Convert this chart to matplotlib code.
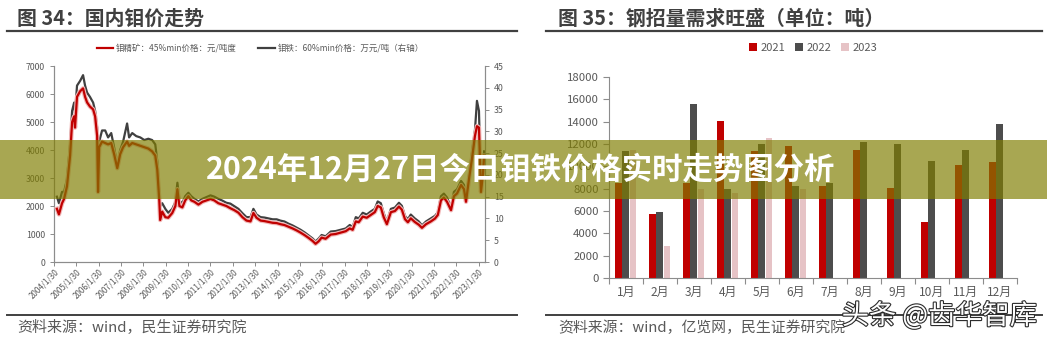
import matplotlib
matplotlib.use("Agg")
import matplotlib.pyplot as plt
import matplotlib.patheffects as pe
from matplotlib.patches import Rectangle
from matplotlib.lines import Line2D

plt.rcParams['font.family'] = ['Noto Sans CJK SC', 'DejaVu Sans']

# ---- left chart: domestic molybdenum prices ----
# decimal years
years = [2004.21, 2004.30, 2004.44, 2004.53, 2004.66, 2004.80, 2004.89, 2004.98, 2005.02, 2005.11,
         2005.25, 2005.38, 2005.47, 2005.56, 2005.69, 2005.83, 2005.92, 2006.01, 2006.05, 2006.10,
         2006.23, 2006.37, 2006.50, 2006.64, 2006.77, 2006.91, 2007.04, 2007.17, 2007.35, 2007.44,
         2007.58, 2007.76, 2007.94, 2008.12, 2008.30, 2008.47, 2008.61, 2008.70, 2008.79, 2008.83,
         2008.92, 2009.06, 2009.19, 2009.37, 2009.51, 2009.60, 2009.69, 2009.82, 2009.95, 2010.09,
         2010.22, 2010.36, 2010.54, 2010.72, 2010.90, 2011.08, 2011.25, 2011.43, 2011.61, 2011.79,
         2011.97, 2012.15, 2012.33, 2012.51, 2012.69, 2012.87, 2013.00, 2013.14, 2013.32, 2013.50,
         2013.68, 2013.86, 2014.04, 2014.21, 2014.39, 2014.57, 2014.75, 2014.93, 2015.11, 2015.29,
         2015.47, 2015.65, 2015.78, 2015.92, 2016.05, 2016.23, 2016.46, 2016.68, 2016.91, 2017.13,
         2017.31, 2017.44, 2017.58, 2017.71, 2017.89, 2018.07, 2018.25, 2018.43, 2018.56, 2018.70,
         2018.83, 2018.97, 2019.15, 2019.33, 2019.51, 2019.64, 2019.78, 2019.91, 2020.04, 2020.22,
         2020.40, 2020.54, 2020.72, 2020.94, 2021.12, 2021.25, 2021.39, 2021.52, 2021.66, 2021.84,
         2021.97, 2022.11, 2022.29, 2022.42, 2022.51, 2022.65, 2022.78, 2022.91, 2023.00, 2023.09,
         2023.18, 2023.27, 2023.32]

# 钼精矿 45%min, 元/吨度 (left axis)
mo_conc = [1900, 1700, 2100, 2250, 2700, 3800, 5000, 5200, 4800, 5900,
           6100, 6200, 5900, 5700, 5550, 5450, 5200, 4500, 2500, 4100,
           4300, 4250, 4200, 4250, 3850, 3350, 3850, 4100, 4300, 4150,
           4250, 4200, 4150, 4100, 4050, 3950, 3800, 3300, 2200, 1500,
           1800, 1600, 1580, 1750, 2000, 2600, 2000, 1950, 2200, 2350,
           2200, 2150, 2050, 2150, 2200, 2250, 2200, 2100, 2050, 2000,
           1920, 1850, 1760, 1600, 1480, 1450, 1750, 1580, 1480, 1460,
           1430, 1400, 1390, 1350, 1320, 1260, 1200, 1130, 1050, 960,
           860, 750, 650, 740, 870, 830, 980, 1000, 1050, 1100,
           1200, 1150, 1450, 1420, 1620, 1580, 1680, 1780, 2000, 1950,
           1600, 1350, 1780, 1820, 1980, 1870, 1530, 1420, 1560, 1430,
           1330, 1220, 1350, 1450, 1550, 1680, 2200, 2300, 2150, 1850,
           2350, 2450, 2750, 2600, 2150, 3000, 3700, 4500, 4850, 4800,
           2500, 3150, 3800]

# 钼铁 60%min, 万元/吨 (right axis)
fe_mo = [15.0, 13.5, 16.1, 16.1, 19.0, 27.0, 34.7, 36.6, 34.1, 40.5,
         41.6, 42.9, 40.5, 38.9, 37.9, 36.6, 34.7, 30.8, 16.7, 27.6,
         30.2, 30.2, 28.6, 29.6, 26.3, 22.2, 25.7, 27.6, 31.8, 28.6,
         29.6, 28.9, 28.6, 28.0, 28.3, 28.0, 27.0, 23.1, 16.1, 12.8,
         13.5, 12.2, 11.3, 12.2, 13.8, 18.2, 14.1, 13.5, 15.1, 15.9,
         15.1, 14.5, 13.9, 14.5, 14.9, 15.3, 15.0, 14.5, 14.1, 13.6,
         13.4, 12.8, 12.2, 11.2, 10.3, 10.3, 12.2, 10.9, 10.3, 10.2,
         10.0, 9.8, 9.8, 9.5, 9.3, 8.8, 8.4, 7.9, 7.4, 6.8,
         6.1, 5.4, 4.7, 5.4, 6.2, 5.9, 7.0, 7.1, 7.4, 7.7,
         8.5, 8.0, 10.3, 10.0, 11.3, 10.9, 11.6, 12.2, 13.9, 13.5,
         11.2, 9.3, 12.2, 12.5, 13.6, 12.9, 10.6, 9.8, 10.9, 10.0,
         9.3, 8.4, 9.3, 10.0, 10.6, 11.4, 15.1, 15.7, 14.8, 12.5,
         16.1, 16.7, 18.6, 17.7, 14.8, 20.2, 25.1, 30.2, 37.0, 34.7,
         16.7, 21.2, 25.4]

tick_years = list(range(2004, 2024))
tick_labels = ['%d/1/30' % y for y in tick_years]

# ---- right chart: steel tender volume, 吨 ----
months = ['1月', '2月', '3月', '4月', '5月', '6月', '7月', '8月', '9月', '10月', '11月', '12月']
vol_2021 = [8500, 5750, 8500, 14050, 11400, 11800, 8250, 11450, 8050, 5000, 10100, 10400]
vol_2022 = [11400, 5900, 15600, 8000, 12000, 8250, 8500, 12200, 12000, 10500, 11500, 13800]
vol_2023 = [11500, 2900, 8000, 7600, 12550, 8000]

RED = '#C00000'
DARK = '#404040'
GREY_TXT = '#595959'
AX_COL = '#8C8C8C'

fig = plt.figure(figsize=(10.47, 3.40), dpi=100)
fig.patch.set_facecolor('white')

# ================= left panel =================
ax = fig.add_axes([54/1047, 78/340, 431/1047, 196/340])
ax2 = ax.twinx()
ax.plot(years, mo_conc, color=RED, lw=1.6, zorder=3,
        path_effects=[pe.Stroke(linewidth=3.2, foreground='#f2b8b8'), pe.Normal()])
ax2.plot(years, fe_mo, color=DARK, lw=1.6, zorder=4)
ax.set_zorder(ax2.get_zorder() + 1)
ax.patch.set_visible(False)

ax.set_xlim(2004.08, 2023.36)
ax.set_ylim(0, 7000)
ax2.set_ylim(0, 45)
ax.set_yticks(range(0, 7001, 1000))
ax2.set_yticks(range(0, 46, 5))
ax.set_xticks([y + 0.08 for y in tick_years])
ax.set_xticklabels(tick_labels, rotation=45, ha='right', rotation_mode='anchor')

for a in (ax, ax2):
    for s in a.spines.values():
        s.set_color(AX_COL)
        s.set_linewidth(0.8)
    a.spines['top'].set_visible(False)
    a.tick_params(colors=AX_COL, labelcolor=GREY_TXT, labelsize=6.3, length=3, width=0.7)
ax.tick_params(axis='x', labelsize=5.8, pad=1)

# legend for left panel (drawn in figure pixels)
fig.add_artist(Line2D([97/1047, 113/1047], [1 - 48/340] * 2, color=RED, lw=1.6))
fig.text(116/1047, 1 - 48/340, '钼精矿：45%min价格：元/吨度', fontsize=6.1, color=GREY_TXT, va='center')
fig.add_artist(Line2D([258/1047, 275/1047], [1 - 48/340] * 2, color=DARK, lw=1.6))
fig.text(278/1047, 1 - 48/340, '钼铁：60%min价格：万元/吨（右轴）', fontsize=6.1, color=GREY_TXT, va='center')

# ================= right panel =================
bx = fig.add_axes([609/1047, 62/340, 408/1047, 201/340])
w = 0.19
xs = list(range(len(months)))
bx.bar([x - 0.22 for x in xs], vol_2021, width=w, color=RED, label='2021')
bx.bar([x - 0.01 for x in xs], vol_2022, width=w, color='#4D4D4D', label='2022')
bx.bar([x + 0.21 for x in xs[:len(vol_2023)]], vol_2023, width=w, color='#E6C3C6', label='2023')
bx.set_xlim(-0.5, 11.5)
bx.set_ylim(0, 18000)
bx.set_yticks(range(0, 18001, 2000))
bx.set_xticks(xs)
bx.set_xticklabels(months)
bx.set_xticks([x - 0.5 for x in range(13)], minor=True)
bx.tick_params(axis='x', which='major', length=0, labelsize=8.6, labelcolor=GREY_TXT, pad=6)
bx.tick_params(axis='x', which='minor', length=4, color=AX_COL, width=0.8)
bx.tick_params(axis='y', length=4, color=AX_COL, width=0.8, labelsize=8.2, labelcolor=GREY_TXT)
bx.spines['top'].set_visible(False)
bx.spines['right'].set_visible(False)
for s in ('left', 'bottom'):
    bx.spines[s].set_color(AX_COL)
    bx.spines[s].set_linewidth(0.8)
bx.legend(loc='lower center', bbox_to_anchor=(0.5, 1.07), ncol=3, frameon=False,
          fontsize=8, handlelength=0.7, handleheight=0.7, handletextpad=0.3,
          columnspacing=0.9, labelcolor=GREY_TXT)

# ================= titles, rules, footers =================
fig.text(17/1047, 1 - 18/340, '图 34：国内钼价走势', fontsize=14.3, fontweight='bold',
         color=DARK, va='center')
fig.text(558/1047, 1 - 18/340, '图 35：钢招量需求旺盛（单位：吨）', fontsize=14.3, fontweight='bold',
         color=DARK, va='center')
for x0, x1 in ((7, 517), (546, 1042)):
    fig.add_artist(Line2D([x0/1047, x1/1047], [1 - 31/340] * 2, color=DARK, lw=1.6))
    fig.add_artist(Line2D([x0/1047, x1/1047], [1 - 314.5/340] * 2, color=DARK, lw=1.4))
fig.text(17/1047, 1 - 328/340, '资料来源：wind，民生证券研究院', fontsize=10.8, color=GREY_TXT, va='center')
fig.text(558/1047, 1 - 328/340, '资料来源：wind，亿览网，民生证券研究院', fontsize=10.7, color=GREY_TXT, va='center')

# watermark
fig.text(1037/1047, 1 - 316/340, '头条 @齿华智库', fontsize=19.6, color='white', ha='right', va='center',
         zorder=12, path_effects=[pe.withStroke(linewidth=1.6, foreground='#2b2b2b')])

# overlay banner with headline
fig.patches.append(Rectangle((0, 1 - 199/340), 1, 59/340, transform=fig.transFigure,
                             facecolor=(127/255, 125/255, 0), alpha=0.68, edgecolor='none', zorder=10))
fig.text(521/1047, 1 - 170/340, '2024年12月27日今日钼铁价格实时走势图分析', fontsize=21.9,
         fontweight='bold', color='white', ha='center', va='center', zorder=11)

fig.savefig('out.png', dpi=100)
